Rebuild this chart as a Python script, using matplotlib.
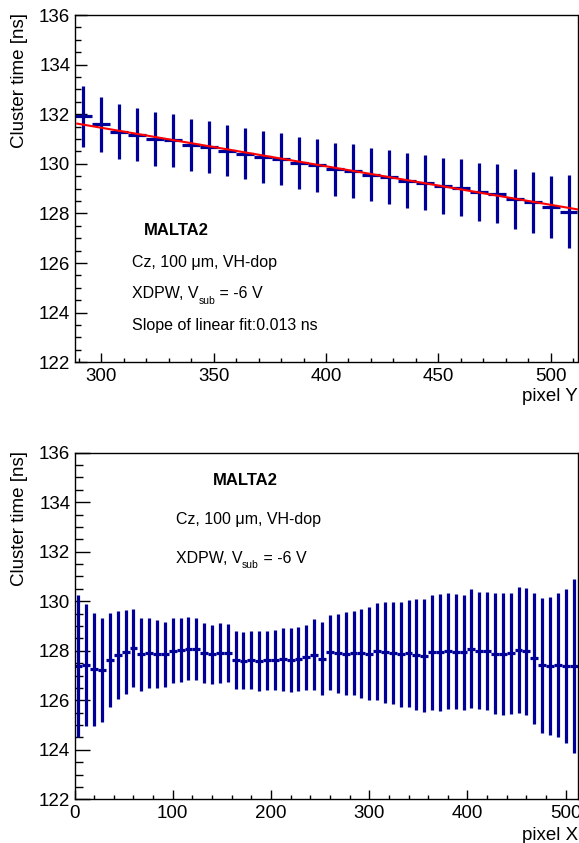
import numpy as np
import matplotlib
matplotlib.use("Agg")
import matplotlib.pyplot as plt
from matplotlib.ticker import MultipleLocator

plt.rcParams['font.family'] = ['Liberation Sans', 'DejaVu Sans']
plt.rcParams['mathtext.fontset'] = 'custom'
plt.rcParams['mathtext.rm'] = 'Liberation Sans'

# pixel Y profile (bins of 8 pixels from 288 to 512)
ybin_width = 8
ybin_lo, ybin_hi = 288, 512
time_vs_y = [131.91, 131.59, 131.30, 131.18, 131.01, 130.95, 130.76, 130.69,
             130.53, 130.41, 130.28, 130.20, 130.02, 129.94, 129.78, 129.72,
             129.57, 129.47, 129.32, 129.24, 129.11, 129.03, 128.87, 128.80,
             128.59, 128.46, 128.28, 128.07]
err_vs_y = [1.23, 1.12, 1.10, 1.08, 1.08, 1.07, 1.05, 1.05, 1.04, 1.04, 1.04,
            1.04, 1.05, 1.06, 1.07, 1.08, 1.08, 1.09, 1.10, 1.10, 1.13, 1.15,
            1.16, 1.18, 1.20, 1.23, 1.25, 1.47]
fit_intercept = 136.11
fit_slope = -0.01552

# pixel X profile (bins of 8 pixels from 0 to 512)
xbin_width = 8
xbin_lo, xbin_hi = 0, 512
time_vs_x = [127.39, 127.43, 127.26, 127.22, 127.63, 127.82, 127.94, 128.10,
             127.86, 127.90, 127.86, 127.85, 128.01, 128.04, 128.08, 128.06,
             127.90, 127.85, 127.91, 127.90, 127.64, 127.60, 127.62, 127.59,
             127.61, 127.62, 127.65, 127.64, 127.67, 127.73, 127.84, 127.68,
             127.93, 127.89, 127.88, 127.91, 127.89, 127.88, 127.97, 127.93,
             127.89, 127.85, 127.89, 127.84, 127.80, 127.93, 127.93, 128.00,
             127.96, 127.93, 128.09, 128.01, 127.99, 127.88, 127.88, 127.89,
             128.02, 127.97, 127.69, 127.42, 127.38, 127.42, 127.39, 127.37]
err_vs_x = [2.86, 2.46, 2.28, 2.11, 1.91, 1.78, 1.69, 1.58, 1.48, 1.41, 1.38,
            1.33, 1.31, 1.29, 1.27, 1.25, 1.21, 1.19, 1.20, 1.17, 1.17, 1.16,
            1.18, 1.21, 1.19, 1.21, 1.26, 1.29, 1.29, 1.32, 1.43, 1.47, 1.52,
            1.59, 1.67, 1.70, 1.79, 1.87, 1.94, 2.03, 2.06, 2.11, 2.15, 2.24,
            2.28, 2.32, 2.35, 2.35, 2.33, 2.34, 2.39, 2.38, 2.38, 2.44, 2.47,
            2.46, 2.55, 2.58, 2.66, 2.73, 2.78, 2.90, 3.10, 3.52]

blue = '#000099'

fig = plt.figure(figsize=(5.79, 8.43), dpi=100)
W, H = 579.0, 843.0
ax1 = fig.add_axes([74.5 / W, 1 - 362.3 / H, 503 / W, 347.3 / H])
ax2 = fig.add_axes([74.5 / W, 1 - 799.3 / H, 503 / W, 346.6 / H])


def style(ax, xmaj, xmin, ylen):
    ax.set_ylim(122, 136)
    ax.yaxis.set_major_locator(MultipleLocator(2))
    ax.yaxis.set_minor_locator(MultipleLocator(0.5))
    ax.xaxis.set_major_locator(MultipleLocator(xmaj))
    ax.xaxis.set_minor_locator(MultipleLocator(xmin))
    ax.tick_params(axis='both', which='both', direction='in', top=False,
                   right=False, labelsize=13.5, width=1)
    ax.tick_params(axis='y', which='major', length=ylen, pad=3)
    ax.tick_params(axis='y', which='minor', length=ylen / 2)
    ax.tick_params(axis='x', which='major', length=6.5, pad=4)
    ax.tick_params(axis='x', which='minor', length=3.2)
    for s in ax.spines.values():
        s.set_linewidth(1.0)


def vsub(ax, x, y):
    # "XDPW, V_sub = -6 V" with a small, low subscript as in ROOT
    t = ax.text(x / W, 1 - y / H, 'XDPW, V', transform=fig.transFigure,
                fontsize=11.5, va='baseline')
    fig.canvas.draw()
    bb = t.get_window_extent()
    xs = bb.x1 / (W)
    ax.text(xs, 1 - (y + 5) / H, 'sub', transform=fig.transFigure,
            fontsize=7.5, va='baseline')
    ax.text(xs + 17 / W, 1 - y / H, ' = -6 V', transform=fig.transFigure,
            fontsize=11.5, va='baseline')


# top panel
xc_y = np.arange(ybin_lo + ybin_width / 2, ybin_hi, ybin_width)
ax1.errorbar(xc_y, time_vs_y, xerr=ybin_width / 2, yerr=err_vs_y, fmt='none',
             ecolor=blue, elinewidth=2.3, capsize=0, zorder=2)
xf = np.array([ybin_lo + 1.2, ybin_hi])
ax1.plot(xf, fit_intercept + fit_slope * xf, color='#ff0000', lw=1.5, zorder=3)
ax1.set_xlim(ybin_lo, ybin_hi)
style(ax1, 50, 10, 8.6)

ax1.text(144 / W, 1 - 235 / H, 'MALTA2', transform=fig.transFigure,
         fontsize=12, fontweight='bold', va='baseline')
ax1.text(132 / W, 1 - 267.5 / H, 'Cz, 100 μm, VH-dop', transform=fig.transFigure,
         fontsize=11.5, va='baseline')
vsub(ax1, 132, 298.5)
ax1.text(132 / W, 1 - 330 / H, 'Slope of linear fit:0.013 ns',
         transform=fig.transFigure, fontsize=11.5, va='baseline')

# bottom panel
xc_x = np.arange(xbin_lo + xbin_width / 2, xbin_hi, xbin_width)
ax2.errorbar(xc_x, time_vs_x, xerr=xbin_width / 2, yerr=err_vs_x, fmt='none',
             ecolor=blue, elinewidth=2.3, capsize=0, zorder=2)
ax2.set_xlim(xbin_lo, xbin_hi)
style(ax2, 100, 20, 11)

ax2.text(212.5 / W, 1 - 485 / H, 'MALTA2', transform=fig.transFigure,
         fontsize=12, fontweight='bold', va='baseline')
ax2.text(175.5 / W, 1 - 524 / H, 'Cz, 100 μm, VH-dop', transform=fig.transFigure,
         fontsize=11.5, va='baseline')
vsub(ax2, 175.5, 563)

# axis titles, ROOT-style placement
fig.text(19 / W, 1 - 13 / H, 'Cluster time [ns]', rotation=90, ha='center',
         va='top', fontsize=13.5)
fig.text(19 / W, 1 - 451 / H, 'Cluster time [ns]', rotation=90, ha='center',
         va='top', fontsize=13.5)
fig.text(578 / W, 1 - 397 / H, 'pixel Y', ha='right', va='center', fontsize=13.5)
fig.text(578 / W, 1 - 835 / H, 'pixel X', ha='right', va='center', fontsize=13.5)

fig.savefig('out.png', dpi=100)
